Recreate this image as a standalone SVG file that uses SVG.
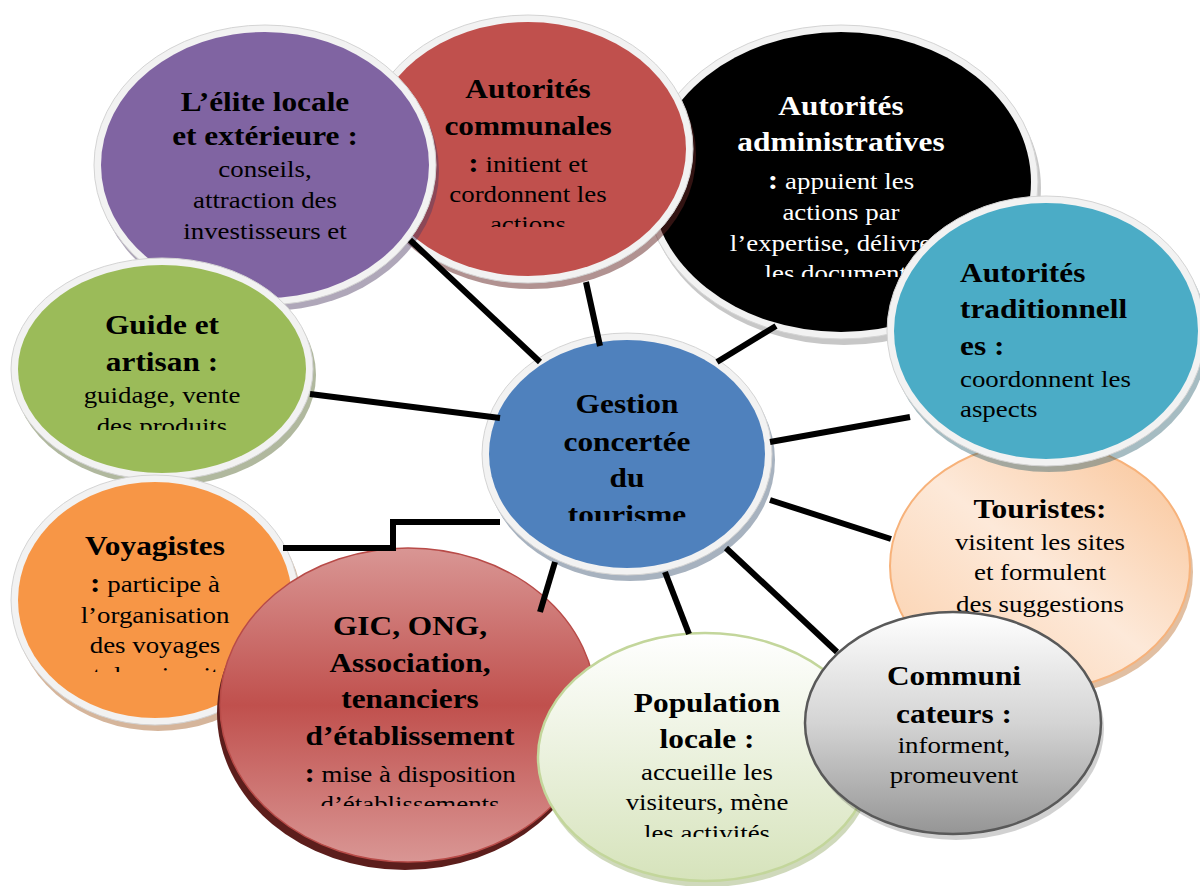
<svg xmlns="http://www.w3.org/2000/svg" width="1200" height="886" viewBox="0 0 1200 886">
<defs>
<style>
text{font-family:"Liberation Serif","Times New Roman",serif;text-anchor:middle;fill:#000}
.b{font-size:28px;font-weight:bold}
.r{font-size:24px;font-weight:normal}
.wt text{fill:#fff}
.st text{text-anchor:start}
.ring{fill:#f2f2f2;stroke:#d4d4d4;stroke-width:1}
.conn{fill:none;stroke:#000;stroke-width:6;stroke-linejoin:miter}
</style>
<linearGradient id="gT" x1="1" y1="0" x2="0" y2="1">
<stop offset="0" stop-color="#f9c294"/>
<stop offset="0.5" stop-color="#fde9d9"/>
<stop offset="1" stop-color="#fbcea8"/>
</linearGradient>
<linearGradient id="gC" x1="0" y1="0" x2="0" y2="1">
<stop offset="0" stop-color="#ffffff"/>
<stop offset="0.5" stop-color="#d4d4d4"/>
<stop offset="1" stop-color="#959595"/>
</linearGradient>
<linearGradient id="gP" x1="0" y1="0" x2="0" y2="1">
<stop offset="0" stop-color="#ffffff"/>
<stop offset="1" stop-color="#d6e3bb"/>
</linearGradient>
<linearGradient id="gG" x1="0" y1="0" x2="0" y2="1">
<stop offset="0" stop-color="#d99694"/>
<stop offset="0.5" stop-color="#c0504d"/>
<stop offset="1" stop-color="#d99694"/>
</linearGradient>
<clipPath id="cRed"><rect x="-2000" y="0" width="5000" height="227"/></clipPath>
<clipPath id="cBlack"><rect x="-2000" y="0" width="5000" height="277"/></clipPath>
<clipPath id="cGreen"><rect x="-2000" y="0" width="5000" height="430"/></clipPath>
<clipPath id="cOrange"><rect x="-2000" y="0" width="5000" height="672"/></clipPath>
<clipPath id="cGic"><rect x="-2000" y="0" width="5000" height="806"/></clipPath>
<clipPath id="cPop"><rect x="-2000" y="0" width="5000" height="837"/></clipPath>
<clipPath id="cCenter"><rect x="-2000" y="0" width="5000" height="521"/></clipPath>
</defs>
<rect width="1200" height="886" fill="#fff"/>

<g id="node-administratives">
<ellipse cx="844" cy="188" rx="197" ry="157" fill="#000" opacity="0.22"/>
<ellipse class="ring" cx="841" cy="182" rx="197" ry="157"/>
<ellipse cx="841" cy="182" rx="190" ry="150" fill="#000"/>
<g class="wt" transform="matrix(1.12 0 0 1 -100.92 0)" clip-path="url(#cBlack)">
<text x="841" y="115" class="b">Autorités</text>
<text x="841" y="151.5" class="b">administratives</text>
<text x="841" y="189"><tspan class="b">:</tspan><tspan class="r"> appuient les</tspan></text>
<text x="841" y="220" class="r">actions par</text>
<text x="841" y="251" class="r">l’expertise, délivrent</text>
<text x="841" y="281" class="r">les documents</text>
</g>
</g>

<g id="node-communales">
<ellipse cx="531" cy="155" rx="165" ry="134" fill="#632523" opacity="0.5"/>
<ellipse class="ring" cx="528" cy="149" rx="165" ry="134"/>
<ellipse cx="528" cy="149" rx="158" ry="127" fill="#c0504d"/>
<g transform="matrix(1.12 0 0 1 -63.36 0)" clip-path="url(#cRed)">
<text x="528" y="98" class="b">Autorités</text>
<text x="528" y="135" class="b">communales</text>
<text x="528" y="172"><tspan class="b">:</tspan><tspan class="r"> initient et</tspan></text>
<text x="528" y="202" class="r">cordonnent les</text>
<text x="528" y="232" class="r">actions</text>
</g>
</g>

<g id="node-elite">
<ellipse cx="268" cy="171" rx="171" ry="140" fill="#4d3b63" opacity="0.45"/>
<ellipse class="ring" cx="265" cy="165" rx="171" ry="140"/>
<ellipse cx="265" cy="165" rx="164" ry="133" fill="#8064a2"/>
<g transform="matrix(1.12 0 0 1 -31.8 0)">
<text x="265" y="111" class="b">L’élite locale</text>
<text x="265" y="145" class="b">et extérieure :</text>
<text x="265" y="177" class="r">conseils,</text>
<text x="265" y="208" class="r">attraction des</text>
<text x="265" y="239" class="r">investisseurs et</text>
</g>
</g>

<g id="node-guide">
<ellipse cx="165" cy="375" rx="151" ry="111" fill="#4f6228" opacity="0.45"/>
<ellipse class="ring" cx="162" cy="369" rx="151" ry="111"/>
<ellipse cx="162" cy="369" rx="144" ry="104" fill="#9bbb59"/>
<g transform="matrix(1.12 0 0 1 -19.44 0)" clip-path="url(#cGreen)">
<text x="162" y="334" class="b">Guide et</text>
<text x="162" y="371" class="b">artisan :</text>
<text x="162" y="403" class="r">guidage, vente</text>
<text x="162" y="434" class="r">des produits</text>
</g>
</g>

<g id="node-voyagistes">
<ellipse cx="158" cy="606" rx="144" ry="125" fill="#974706" opacity="0.4"/>
<ellipse class="ring" cx="155" cy="600" rx="144" ry="125"/>
<ellipse cx="155" cy="600" rx="137" ry="118" fill="#f79646"/>
<g transform="matrix(1.12 0 0 1 -18.6 0)" clip-path="url(#cOrange)">
<text x="155" y="555" class="b">Voyagistes</text>
<text x="155" y="592"><tspan class="b">:</tspan><tspan class="r"> participe à</tspan></text>
<text x="155" y="623" class="r">l’organisation</text>
<text x="155" y="653" class="r">des voyages</text>
<text x="155" y="683" class="r">et des circuits</text>
</g>
</g>

<g id="node-gic">
<ellipse cx="405" cy="713" rx="188" ry="157" fill="#5c1e1c"/>
<ellipse cx="408" cy="705" rx="188" ry="157" fill="url(#gG)" stroke="#b84b48" stroke-width="1.5"/>
<g transform="matrix(1.12 0 0 1 -49.2 0)" clip-path="url(#cGic)">
<text x="410" y="635" class="b">GIC, ONG,</text>
<text x="410" y="672" class="b">Association,</text>
<text x="410" y="708" class="b">tenanciers</text>
<text x="410" y="745" class="b">d’établissement</text>
<text x="410" y="782"><tspan class="b">:</tspan><tspan class="r"> mise à disposition</tspan></text>
<text x="410" y="812" class="r">d’établissements</text>
</g>
</g>

<g id="node-population">
<ellipse cx="707" cy="763" rx="167" ry="124" fill="#76923c" opacity="0.35"/>
<ellipse cx="705" cy="757" rx="167" ry="124" fill="url(#gP)" stroke="#c3d69b" stroke-width="2.5"/>
<g transform="matrix(1.12 0 0 1 -84.84 0)" clip-path="url(#cPop)">
<text x="707" y="712" class="b">Population</text>
<text x="707" y="748" class="b">locale :</text>
<text x="707" y="780" class="r">accueille les</text>
<text x="707" y="810" class="r">visiteurs, mène</text>
<text x="707" y="841" class="r">les activités</text>
</g>
</g>

<g id="node-touristes">
<ellipse cx="1043" cy="572" rx="150" ry="124" fill="#c98a55" opacity="0.55"/>
<ellipse cx="1040" cy="566" rx="150" ry="124" fill="url(#gT)" stroke="#f7b27a" stroke-width="2"/>
<g transform="matrix(1.12 0 0 1 -124.8 0)">
<text x="1040" y="518" class="b">Touristes:</text>
<text x="1040" y="550" class="r">visitent les sites</text>
<text x="1040" y="580" class="r">et formulent</text>
<text x="1040" y="612" class="r">des suggestions</text>
</g>
</g>

<g id="node-traditionnelles">
<ellipse cx="1049" cy="337" rx="159" ry="135" fill="#205867" opacity="0.4"/>
<ellipse class="ring" cx="1046" cy="331" rx="159" ry="135"/>
<ellipse cx="1046" cy="331" rx="152" ry="128" fill="#4bacc6"/>
<g class="st" transform="matrix(1.12 0 0 1 -115.2 0)">
<text x="960" y="282" class="b">Autorités</text>
<text x="960" y="318" class="b">traditionnell</text>
<text x="960" y="355" class="b">es :</text>
<text x="960" y="387" class="r">coordonnent les</text>
<text x="960" y="417" class="r">aspects</text>
</g>
</g>

<g id="node-communicateurs">
<ellipse cx="956" cy="729" rx="148" ry="111" fill="#000" opacity="0.18"/>
<ellipse cx="953" cy="723" rx="148" ry="111" fill="url(#gC)" stroke="#595959" stroke-width="2.5"/>
<g transform="matrix(1.12 0 0 1 -114.48 0)">
<text x="954" y="685" class="b">Communi</text>
<text x="954" y="723" class="b">cateurs :</text>
<text x="954" y="753" class="r">informent,</text>
<text x="954" y="783" class="r">promeuvent</text>
</g>
</g>

<g id="node-gestion">
<ellipse cx="630" cy="460" rx="145" ry="121" fill="#243f60" opacity="0.4"/>
<ellipse class="ring" cx="627" cy="454" rx="145" ry="121"/>
<ellipse cx="627" cy="454" rx="138" ry="114" fill="#4f81bd"/>
<g transform="matrix(1.12 0 0 1 -75.24 0)" clip-path="url(#cCenter)">
<text x="627" y="413" class="b">Gestion</text>
<text x="627" y="451" class="b">concertée</text>
<text x="627" y="487" class="b">du</text>
<text x="627" y="524" class="b">tourisme</text>
</g>
</g>

<g id="connectors">
<line class="conn" x1="410" y1="240" x2="540" y2="362"/>
<line class="conn" x1="586" y1="282" x2="600" y2="346"/>
<line class="conn" x1="776" y1="326" x2="717" y2="362"/>
<line class="conn" x1="910" y1="417" x2="770" y2="442"/>
<line class="conn" x1="310" y1="394" x2="500" y2="418"/>
<line class="conn" x1="770" y1="500" x2="891" y2="539"/>
<line class="conn" x1="726" y1="548" x2="837" y2="652"/>
<line class="conn" x1="665" y1="572" x2="689" y2="634"/>
<line class="conn" x1="555" y1="562" x2="540" y2="612"/>
<polyline class="conn" points="283,548 393,548 393,522 500,522"/>
</g>
</svg>
